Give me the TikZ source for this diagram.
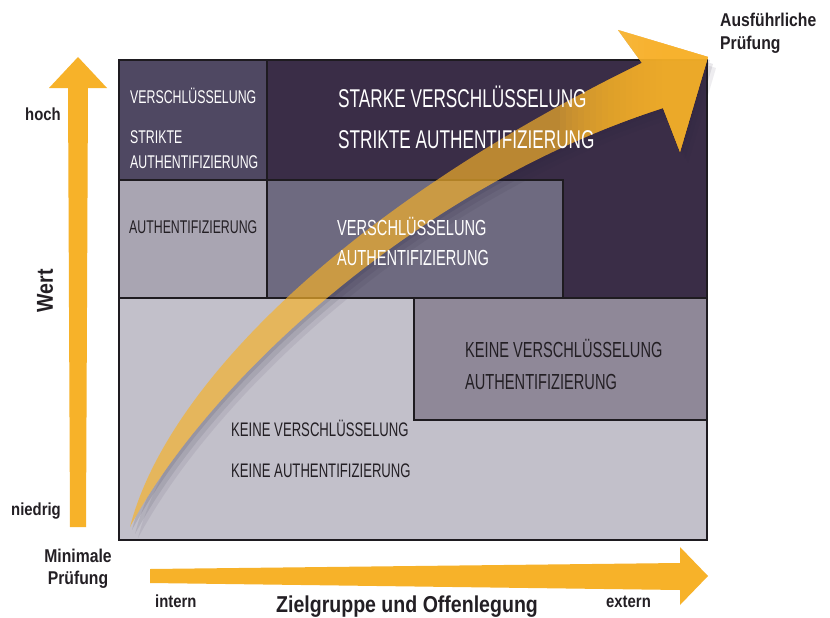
\documentclass[tikz,border=0pt]{standalone}
\usepackage{fontspec}
\newfontfamily\boxfont[FakeStretch=0.67]{Liberation Sans}
\newfontfamily\lblfont[FakeStretch=0.85]{Liberation Sans}
\definecolor{arrowyellow}{HTML}{F7B229}
\definecolor{darkplum}{HTML}{3A2D47}
\definecolor{plum}{HTML}{4F4862}
\definecolor{midgray}{HTML}{6E6A80}
\definecolor{lightmauve}{HTML}{A9A5B2}
\definecolor{pale}{HTML}{C2C0CA}
\definecolor{mauve}{HTML}{8F8898}
\definecolor{ink}{HTML}{231F24}
\definecolor{framecol}{HTML}{1E1B20}
\definecolor{shadowcol}{HTML}{2A2440}
\tikzset{
  boxline/.style={draw=framecol, line width=1.3pt},
  cell/.style={anchor=base west, inner sep=0pt},
  txtS/.style={cell, font=\boxfont\fontsize{18.4}{20}\selectfont},
  txtM/.style={cell, font=\boxfont\fontsize{21.8}{24}\selectfont},
  txtL/.style={cell, font=\boxfont\fontsize{25.7}{28}\selectfont},
  txtB/.style={cell, font=\boxfont\fontsize{19.6}{22}\selectfont},
  lbl/.style={inner sep=0pt, text=ink, font=\lblfont\bfseries\fontsize{17.5}{20}\selectfont},
  lblbig/.style={inner sep=0pt, text=ink, font=\lblfont\bfseries\fontsize{18.5}{21}\selectfont},
  axistitle/.style={inner sep=0pt, text=ink, font=\lblfont\bfseries\fontsize{23}{26}\selectfont},
  yellowarrow/.style={fill=arrowyellow}
}
\def\bigarrowpath{(130,527) .. controls (165,390) and (340,210) .. (642,63) -- (618,30) -- (708,57) -- (680,152) -- (663,108) .. controls (415,188) and (207,383) .. (130,527) -- cycle}
\begin{document}
\begin{tikzpicture}[x=1pt,y=-1pt]
\useasboundingbox (0,0) rectangle (830,618);
\fill[white] (0,0) rectangle (830,618);

% boxes
\fill[pale] (119,298) rectangle (707,540);
\draw[boxline, fill=darkplum] (267,60) rectangle (707,298);
\draw[boxline, fill=plum] (119,60) rectangle (267,180);
\draw[boxline, fill=lightmauve] (119,180) rectangle (267,298);
\draw[boxline, fill=midgray] (267,180) rectangle (563,298);
\draw[boxline, fill=mauve] (414,298) rectangle (707,420);
\draw[framecol, line width=2.4pt] (119,60) rectangle (707,540);

% soft shadow outside the curved arrow
\begin{scope}[even odd rule]
  \clip (0,0) rectangle (830,618) \bigarrowpath;
  \fill[shadowcol, fill opacity=0.12, shift={(2,3)}] \bigarrowpath;
  \fill[shadowcol, fill opacity=0.10, shift={(5,7)}] \bigarrowpath;
  \fill[shadowcol, fill opacity=0.08, shift={(8,11)}] \bigarrowpath;
\end{scope}
% curved arrow: translucent shaft, head built up to full colour
\fill[yellowarrow, fill opacity=0.68] \bigarrowpath;
\begin{scope}
  \clip \bigarrowpath;
  \foreach \sx in {560,566,...,662} {
    \fill[yellowarrow, fill opacity=0.11] (\sx,0) rectangle (720,200);
  }
\end{scope}

% vertical axis arrow
\fill[yellowarrow] (70,527) -- (86,527) -- (88,88) -- (107,88) -- (78,57) -- (49,88) -- (68,88) -- cycle;
% horizontal axis arrow
\fill[yellowarrow] (150,569) -- (680,563) -- (680,547) -- (708,576) -- (680,605) -- (680,590) -- (150,583) -- cycle;

% box texts
\node[txtS, text=white] (tl1) at (130,103) {VERSCHLÜSSELUNG};
\node[txtS, text=white] (tl2) at (130,143) {STRIKTE};
\node[txtS, text=white] (tl3) at (130,168) {AUTHENTIFIZIERUNG};
\node[txtL, text=white] (tr1) at (338,107) {STARKE VERSCHLÜSSELUNG};
\node[txtL, text=white] (tr2) at (338,148) {STRIKTE AUTHENTIFIZIERUNG};
\node[txtS, text=ink] (ml1) at (129,233) {AUTHENTIFIZIERUNG};
\node[txtM, text=white] (mc1) at (337,235) {VERSCHLÜSSELUNG};
\node[txtM, text=white] (mc2) at (337,265) {AUTHENTIFIZIERUNG};
\node[txtM, text=ink] (kb1) at (465,357) {KEINE VERSCHLÜSSELUNG};
\node[txtM, text=ink] (kb2) at (465,389) {AUTHENTIFIZIERUNG};
\node[txtB, text=ink] (bt1) at (231,436) {KEINE VERSCHLÜSSELUNG};
\node[txtB, text=ink] (bt2) at (231,477) {KEINE AUTHENTIFIZIERUNG};

% axis labels
\node[lbl, anchor=base west] (hoch) at (25,121) {hoch};
\node[lbl, anchor=base west] (niedrig) at (11,515) {niedrig};
\node[lblbig, anchor=base] (min1) at (78,562) {Minimale};
\node[lblbig, anchor=base] (min2) at (78,584) {Prüfung};
\node[lblbig, anchor=base west] (aus1) at (720,27) {Ausführliche};
\node[lblbig, anchor=base west] (aus2) at (720,49) {Prüfung};
\node[axistitle, rotate=90] (wert) at (45,291) {Wert};
\node[lbl, anchor=base west] (intern) at (155,607) {intern};
\node[lbl, anchor=base west] (extern) at (606,607) {extern};
\node[axistitle, anchor=base] (ziel) at (407,612) {Zielgruppe und Offenlegung};
\end{tikzpicture}
\end{document}
